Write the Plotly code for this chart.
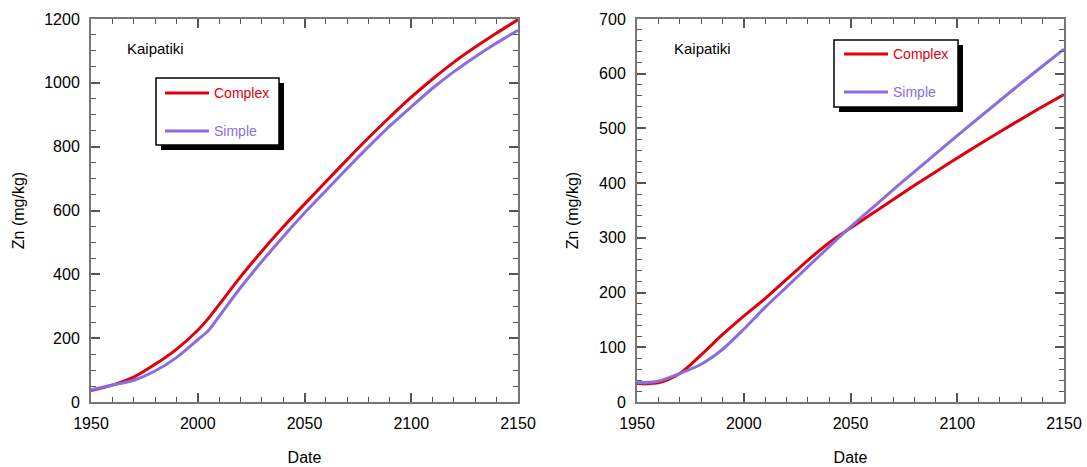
import plotly.graph_objects as go

W, H = 1087, 467

years = [1950, 1960, 1970, 1980, 1990, 2000, 2005, 2010, 2020, 2030, 2040, 2050,
         2060, 2070, 2080, 2090, 2100, 2110, 2120, 2130, 2140, 2150]

# Left panel
left_complex = [36, 53, 78, 118, 165, 225, 262, 305, 392, 472, 548, 620,
                690, 760, 828, 893, 955, 1012, 1065, 1112, 1156, 1198]
left_simple = [38, 53, 68, 97, 139, 195, 224, 268, 358, 440, 518, 592,
               662, 732, 800, 865, 925, 983, 1035, 1082, 1125, 1165]

# Right panel
right_complex = [34, 35, 52, 86, 123, 157, 173, 189, 224, 259, 291, 318,
                 344, 370, 396, 421, 446, 470, 494, 517, 540, 562]
right_simple = [35, 38, 52, 69, 96, 133, 153, 173, 210, 247, 284, 320,
                354, 388, 421, 454, 487, 519, 551, 583, 614, 645]

series_names = ["Complex", "Simple"]
colors = {"Complex": "#e0000b", "Simple": "#8b6de0"}
site_label = "Kaipatiki"
x_title = "Date"
y_title = "Zn (mg/kg)"
x_ticks = [1950, 2000, 2050, 2100, 2150]


def px(x):
    return x / W


def py(y):
    return 1 - y / H


fig = go.Figure()
for name, ys in zip(series_names, [left_complex, left_simple]):
    fig.add_trace(go.Scatter(x=years, y=ys, mode="lines", name=name,
                             line=dict(color=colors[name], width=3, shape="spline", smoothing=0.8),
                             xaxis="x", yaxis="y", showlegend=False))
for name, ys in zip(series_names, [right_complex, right_simple]):
    fig.add_trace(go.Scatter(x=years, y=ys, mode="lines", name=name,
                             line=dict(color=colors[name], width=3, shape="spline", smoothing=0.8),
                             xaxis="x2", yaxis="y2", showlegend=False))

FF = "Liberation Sans, Arial, sans-serif"
font = dict(family=FF, size=16, color="black")
minor_common = dict(ticks="inside", ticklen=5, tickcolor="#555555", tickwidth=1.2)
axis_common = dict(showgrid=False, zeroline=False, showline=True, linecolor="#777777",
                   linewidth=2, mirror="allticks", ticks="inside", ticklen=9,
                   tickwidth=1.5, tickcolor="#555555", tickfont=font, automargin=False,
                   title_font=dict(family=FF, size=16, color="black"))
xaxis_extra = dict(ticklabelstandoff=6, title=dict(text=x_title, standoff=21))
yaxis_extra = dict(ticklabelstandoff=6, title=dict(text=y_title, standoff=16))

ydom = [py(402), py(19)]
fig.update_layout(
    width=W, height=H, margin=dict(l=0, r=0, t=0, b=0, autoexpand=False),
    paper_bgcolor="white", plot_bgcolor="white", showlegend=False,
    xaxis=dict(axis_common, **xaxis_extra, domain=[px(91), px(518)], range=[1950, 2150],
               tickvals=x_ticks, minor=dict(minor_common, dtick=10), anchor="y"),
    yaxis=dict(axis_common, **yaxis_extra, domain=ydom, range=[0, 1200], dtick=200,
               minor=dict(minor_common, dtick=50), anchor="x"),
    xaxis2=dict(axis_common, **xaxis_extra, domain=[px(637), px(1064)], range=[1950, 2150],
                tickvals=x_ticks, minor=dict(minor_common, dtick=10), anchor="y2"),
    yaxis2=dict(axis_common, **yaxis_extra, domain=ydom, range=[0, 700], dtick=100,
                minor=dict(minor_common, dtick=20), anchor="x2"),
)

shapes = []
annotations = []


def add_legend(x0, y0, x1, y1, line_x0, line_x1, y_c, y_s):
    shapes.append(dict(type="rect", xref="paper", yref="paper",
                       x0=px(x0 + 5), x1=px(x1 + 5), y0=py(y1 + 5), y1=py(y0 + 5),
                       fillcolor="black", line=dict(width=0), layer="above"))
    shapes.append(dict(type="rect", xref="paper", yref="paper",
                       x0=px(x0), x1=px(x1), y0=py(y1), y1=py(y0),
                       fillcolor="white", line=dict(color="black", width=1.5), layer="above"))
    for name, yy in zip(series_names, [y_c, y_s]):
        shapes.append(dict(type="line", xref="paper", yref="paper",
                           x0=px(line_x0), x1=px(line_x1), y0=py(yy), y1=py(yy),
                           line=dict(color=colors[name], width=3), layer="above"))
        annotations.append(dict(xref="paper", yref="paper", x=px(line_x1 + 3), y=py(yy),
                                xanchor="left", yanchor="middle", showarrow=False, text=name,
                                font=dict(family=FF, size=14, color=colors[name])))


add_legend(156, 78, 279, 145, 165, 209, 93, 131)
add_legend(834, 40, 958, 107, 844, 888, 54, 92)

for xx in [125, 672]:
    annotations.append(dict(xref="paper", yref="paper", x=px(xx), y=py(48),
                            xanchor="left", yanchor="middle", showarrow=False, text=site_label,
                            font=dict(family=FF, size=15, color="black")))

fig.update_layout(shapes=shapes, annotations=annotations)
fig.write_html("out.html", config={"displayModeBar": False},
               post_script="document.body.style.margin='0';document.body.style.overflow='hidden';")
